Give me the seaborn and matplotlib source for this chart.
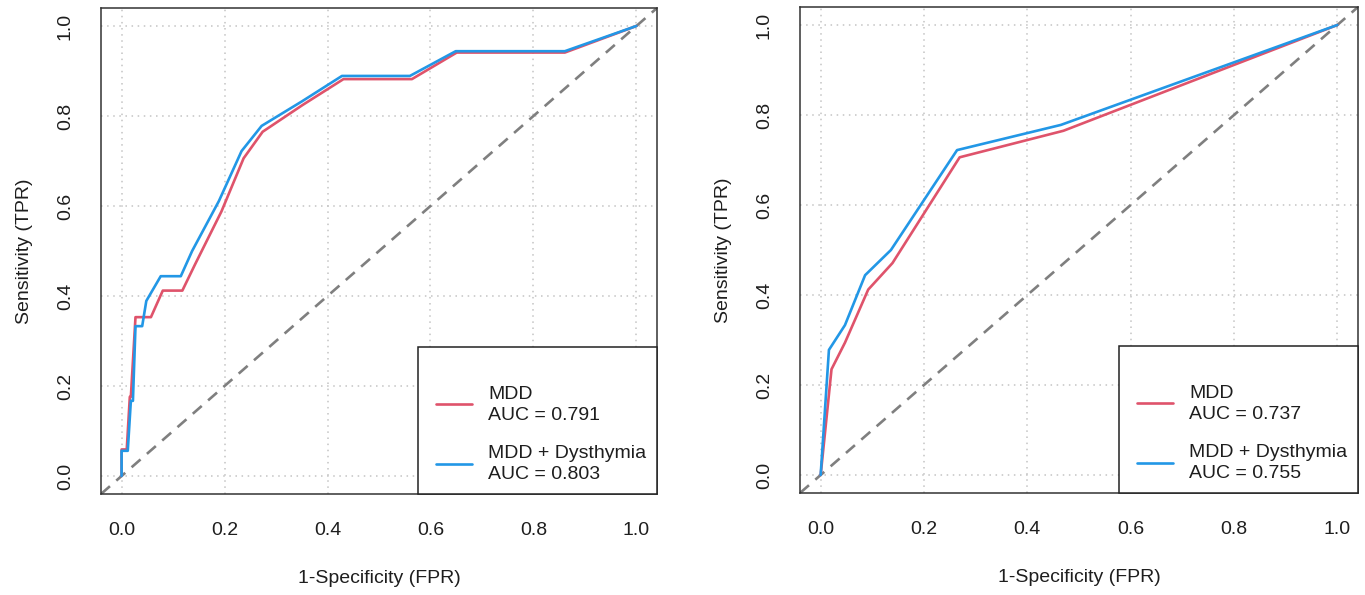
import matplotlib
matplotlib.use("Agg")
import matplotlib.pyplot as plt
from matplotlib.lines import Line2D
from matplotlib.legend_handler import HandlerLine2D
import seaborn as sns
import pandas as pd

# ROC coordinates, panel A (empirical curves)
a_mdd_fpr = [0.0, 0.0, 0.010, 0.016, 0.018, 0.027, 0.057, 0.080, 0.118, 0.143,
             0.194, 0.237, 0.274, 0.351, 0.431, 0.564, 0.651, 0.861, 1.0]
a_mdd_tpr = [0.0, 0.059, 0.059, 0.176, 0.176, 0.353, 0.353, 0.412, 0.412, 0.471,
             0.588, 0.706, 0.765, 0.824, 0.882, 0.882, 0.941, 0.941, 1.0]
a_dys_fpr = [0.0, 0.0, 0.012, 0.018, 0.022, 0.027, 0.040, 0.048, 0.076, 0.115,
             0.137, 0.189, 0.233, 0.272, 0.351, 0.428, 0.560, 0.649, 0.861, 1.0]
a_dys_tpr = [0.0, 0.056, 0.056, 0.167, 0.167, 0.333, 0.333, 0.389, 0.444, 0.444,
             0.500, 0.611, 0.722, 0.778, 0.833, 0.889, 0.889, 0.944, 0.944, 1.0]

# ROC coordinates, panel B
b_mdd_fpr = [0.0, 0.021, 0.047, 0.092, 0.139, 0.269, 0.470, 1.0]
b_mdd_tpr = [0.0, 0.235, 0.294, 0.412, 0.471, 0.706, 0.765, 1.0]
b_dys_fpr = [0.0, 0.016, 0.047, 0.086, 0.136, 0.264, 0.465, 1.0]
b_dys_tpr = [0.0, 0.278, 0.333, 0.444, 0.500, 0.722, 0.778, 1.0]

series_names = ["MDD", "MDD + Dysthymia"]
auc_a = ["0.791", "0.803"]
auc_b = ["0.737", "0.755"]
series_colors = ["#DF536B", "#2297E6"]
tick_values = [0.0, 0.2, 0.4, 0.6, 0.8, 1.0]
tick_labels = ["0.0", "0.2", "0.4", "0.6", "0.8", "1.0"]

sns.set_style("white")
plt.rcParams["font.family"] = ["Liberation Sans", "DejaVu Sans"]
FS = 14
TEXT = "#1E1E1E"

fig = plt.figure(figsize=(13.65, 5.95), dpi=100)
ax_a = fig.add_axes([101 / 1365, 101 / 595, 556 / 1365, 486 / 595])
ax_b = fig.add_axes([800 / 1365, 102 / 595, 558 / 1365, 486 / 595])


def roc_panel(ax, curves, aucs):
    ax.set_xlim(-0.04, 1.04)
    ax.set_ylim(-0.04, 1.04)
    for v in tick_values:
        ax.axvline(v, color="#C4C4C4", lw=1.1, ls=(0, (1, 3)), zorder=0)
        ax.axhline(v, color="#C4C4C4", lw=1.1, ls=(0, (1, 3)), zorder=0)
    ax.axline((0, 0), slope=1, color="#7F7F7F", lw=1.9,
              ls=(0, (4.5, 3.2)), zorder=1)
    for (fpr, tpr), name, auc, col in zip(curves, series_names, aucs, series_colors):
        df = pd.DataFrame({"fpr": fpr, "tpr": tpr})
        sns.lineplot(data=df, x="fpr", y="tpr", sort=False, estimator=None,
                     color=col, lw=1.9, ax=ax, label=f"{name}\nAUC = {auc}",
                     zorder=3)
    ax.set_xticks(tick_values, tick_labels)
    ax.set_yticks(tick_values, tick_labels)
    ax.tick_params(axis="both", direction="out", length=8.5, width=1.1,
                   color="#333333", labelsize=FS, labelcolor=TEXT)
    ax.tick_params(axis="x", pad=12)
    ax.tick_params(axis="y", pad=11)
    for lab in ax.get_yticklabels():
        lab.set_rotation(90)
        lab.set_va("center")
    ax.set_xlabel("1-Specificity (FPR)", fontsize=FS, labelpad=22, color=TEXT)
    ax.set_ylabel("Sensitivity (TPR)", fontsize=FS, labelpad=17, color=TEXT)
    for sp in ax.spines.values():
        sp.set_visible(True)
        sp.set_color("#333333")
        sp.set_linewidth(1.1)
    leg = ax.legend(loc="lower right", borderaxespad=0, fontsize=FS,
                    title=" ", title_fontsize=5, fancybox=False, framealpha=1,
                    edgecolor="#222222", borderpad=0.55, handlelength=2.23,
                    handletextpad=0.82, labelspacing=1.1,
                    handler_map={Line2D: HandlerLine2D(xpad=0.345)})
    leg.get_frame().set_linewidth(1.1)
    for t in leg.get_texts():
        t.set_linespacing(1.32)
        t.set_color(TEXT)


roc_panel(ax_a, [(a_mdd_fpr, a_mdd_tpr), (a_dys_fpr, a_dys_tpr)], auc_a)
roc_panel(ax_b, [(b_mdd_fpr, b_mdd_tpr), (b_dys_fpr, b_dys_tpr)], auc_b)

fig.savefig("out.png", dpi=100)
